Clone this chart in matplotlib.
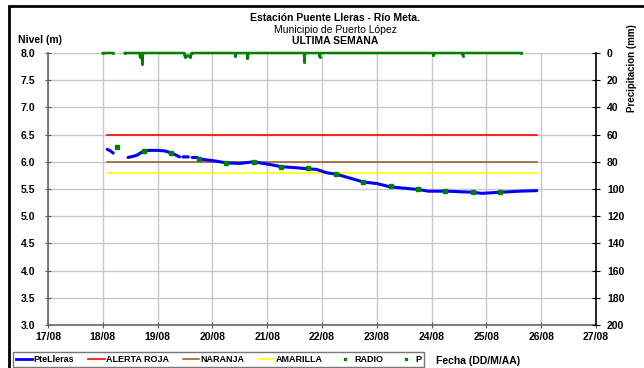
import numpy as np
import matplotlib
matplotlib.use("Agg")
import matplotlib.pyplot as plt
from matplotlib.lines import Line2D
from matplotlib.patches import Rectangle

plt.rcParams['font.family'] = ['Liberation Sans', 'DejaVu Sans']

# ---- data (day of August) ----
nan = np.nan
level_days = [18.08, 18.14, 18.19, nan, 18.46, 18.55, 18.62, 18.70, 18.75, 18.86, 19.00,
              19.13, 19.26, 19.34, 19.40, nan, 19.46, 19.56, nan, 19.63, 19.72, 19.77,
              20.02, 20.26, 20.50, 20.75, 21.05, 21.26, 21.54, 21.75, 21.90, 22.08,
              22.27, 22.51, 22.75, 23.00, 23.24, 23.55, 23.76, 23.94, 24.28, 24.76,
              24.91, 25.25, 25.61, 25.92]
level_vals = [6.23, 6.20, 6.16, nan, 6.08, 6.10, 6.12, 6.17, 6.20, 6.21, 6.21,
              6.20, 6.16, 6.12, 6.09, nan, 6.09, 6.09, nan, 6.08, 6.08, 6.05,
              6.02, 5.98, 5.97, 6.00, 5.95, 5.91, 5.89, 5.87, 5.86, 5.80,
              5.77, 5.70, 5.63, 5.60, 5.54, 5.51, 5.49, 5.46, 5.46, 5.44,
              5.42, 5.44, 5.46, 5.47]

radio_days = [18.26, 18.75, 19.25, 19.75, 20.25, 20.75, 21.25, 21.75, 22.25,
              22.75, 23.25, 23.75, 24.25, 24.75, 25.25]
radio_vals = [6.27, 6.20, 6.16, 6.06, 5.98, 6.00, 5.91, 5.88, 5.78,
              5.63, 5.55, 5.50, 5.47, 5.45, 5.45]

alert_days = [18.08, 25.92]
alerta_roja = 6.5
naranja = 6.0
amarilla = 5.8

p_days = [18.00, 18.19, nan, 18.40, 18.67, 18.68, 18.69, 18.71, 18.72, 18.73,
          19.48, 19.50, 19.52, 19.58, 19.60, 19.62, 20.41, 20.42, 20.43,
          20.63, 20.64, 20.65, 21.67, 21.68, 21.69, 21.95, 21.96, 21.97,
          24.02, 24.03, 24.04, 24.56, 24.57, 24.58, 25.64]
p_vals = [0, 0, nan, 0, 0, 3, 0, 0, 8, 0,
          0, 3, 2, 2, 3, 0, 0, 2, 0,
          0, 4, 0, 0, 6.5, 0, 0, 3, 0,
          0, 1.7, 0, 0, 2, 0, 0]

day_ticks = list(range(17, 28))
day_labels = ['%02d/08' % d for d in day_ticks]

BLUE = '#0000ff'
GREEN = '#008000'
RED = '#ff0000'
BROWN = '#996633'
YELLOW = '#ffff00'

fig = plt.figure(figsize=(6.44, 3.68), dpi=100)
ax = fig.add_axes([48 / 644, 1 - 325 / 368, 548 / 644, 272 / 368])

ax.plot(level_days, level_vals, color=BLUE, lw=2.2, solid_capstyle='round', zorder=4)
ax.plot(alert_days, [alerta_roja] * 2, color=RED, lw=1.2, zorder=3)
ax.plot(alert_days, [naranja] * 2, color=BROWN, lw=1.2, zorder=3)
ax.plot(alert_days, [amarilla] * 2, color=YELLOW, lw=1.2, zorder=3)
ax.plot(radio_days, radio_vals, ls='none', marker='s', ms=2.6, color=GREEN, zorder=5)

ax.set_xlim(17, 27)
ax.set_ylim(3.0, 8.0)
ax.set_xticks(day_ticks)
ax.set_xticklabels(day_labels, fontsize=7.5, fontweight='bold')
ax.set_yticks(np.arange(3.0, 8.01, 0.5))
ax.set_yticklabels(['%.1f' % v for v in np.arange(3.0, 8.01, 0.5)], fontsize=7.5,
                   fontweight='bold')
ax.grid(True, color='#c8c8c8', lw=1)
ax.set_axisbelow(True)
ax.tick_params(axis='both', direction='inout', length=4, color='#555555', pad=3)
ax.tick_params(axis='y', pad=7)
for s in ['top', 'right']:
    ax.spines[s].set_visible(False)
for s in ['left', 'bottom']:
    ax.spines[s].set_color('#666666')
    ax.spines[s].set_linewidth(1.2)

ax2 = ax.twinx()
ax2.plot(p_days, p_vals, color=GREEN, lw=1.8, marker='s', ms=1, zorder=4, clip_on=False)
ax2.set_ylim(200, 0)
ax2.set_yticks(range(0, 201, 20))
ax2.set_yticklabels([str(v) for v in range(0, 201, 20)], fontsize=7.5, fontweight='bold')
ax2.tick_params(axis='y', direction='inout', length=6, color='black', pad=5)
for s in ['top', 'left', 'bottom']:
    ax2.spines[s].set_visible(False)
ax2.spines['right'].set_linewidth(1.2)

fig.text(18 / 644, 1 - 40 / 368, 'Nivel (m)', fontsize=7.5, fontweight='bold',
         ha='left', va='center')
fig.text(632 / 644, 1 - 68 / 368, 'Precipitacion (mm)', fontsize=7, fontweight='bold',
         rotation=90, ha='center', va='center')
fig.text(335 / 644, 1 - 18 / 368, 'Estación Puente Lleras - Río Meta.', fontsize=7.5,
         fontweight='bold', ha='center', va='center')
fig.text(335 / 644, 1 - 30 / 368, 'Municipio de Puerto López', fontsize=7.5,
         ha='center', va='center')
fig.text(335 / 644, 1 - 41 / 368, 'ULTIMA SEMANA', fontsize=7.5, fontweight='bold',
         ha='center', va='center')
fig.text(478 / 644, 1 - 361 / 368, 'Fecha (DD/M/AA)', fontsize=7.5, fontweight='bold',
         ha='center', va='center')

handles = [
    Line2D([], [], color=BLUE, lw=2),
    Line2D([], [], color=RED, lw=1.2),
    Line2D([], [], color=BROWN, lw=1.2),
    Line2D([], [], color=YELLOW, lw=1.2),
    Line2D([], [], ls='none', marker='s', ms=2, color=GREEN),
    Line2D([], [], ls='none', marker='s', ms=2, color=GREEN),
]
labels = ['PteLleras', 'ALERTA ROJA', 'NARANJA', 'AMARILLA', 'RADIO', 'P']
leg = fig.legend(handles, labels, loc='upper left',
                 bbox_to_anchor=(13 / 644, 1 - 352 / 368),
                 ncol=6, fontsize=6.5, frameon=True, fancybox=False,
                 handlelength=1.8, handletextpad=0.1, columnspacing=1.6,
                 borderpad=0.35, borderaxespad=0)
for t in leg.get_texts():
    t.set_fontweight('bold')
leg.get_frame().set_edgecolor('#555555')
leg.get_frame().set_linewidth(1)

fig.patches.append(Rectangle((9 / 644, -0.05), 1.0, 1 - 6 / 368 + 0.05,
                             transform=fig.transFigure, fill=False, ec='black', lw=2))

fig.savefig('out.png', dpi=100)
